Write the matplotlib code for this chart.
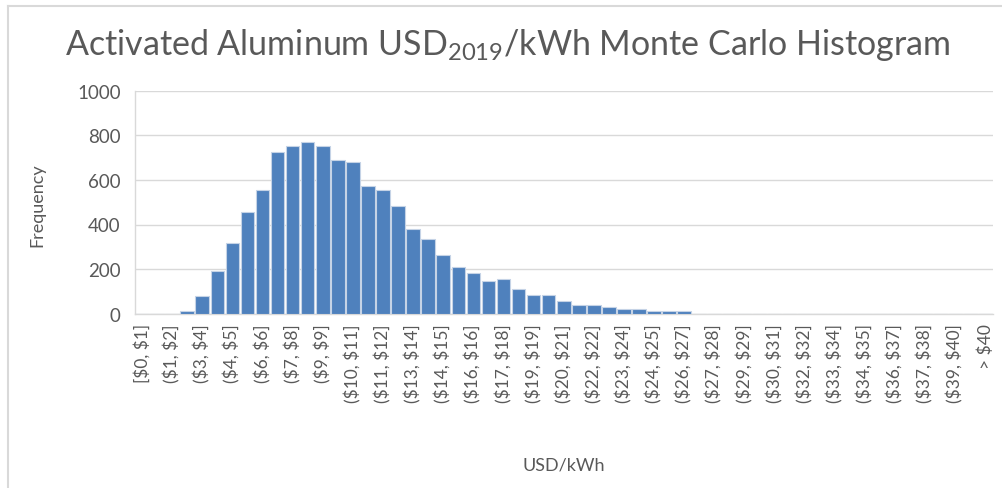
import matplotlib
matplotlib.use("Agg")
import matplotlib.pyplot as plt
from matplotlib.lines import Line2D

plt.rcParams['font.family'] = ['Lato', 'DejaVu Sans']

# Excel histogram: 56 bins of ~$0.71 plus an overflow bin
counts = [0, 0, 0, 9, 79, 189, 315, 458, 557, 728,
          753, 773, 755, 692, 683, 575, 557, 485, 378, 333,
          261, 207, 180, 144, 153, 108, 81, 81, 54, 36,
          36, 27, 18, 18, 10, 10, 10, 0, 0, 0,
          0, 0, 0, 0, 0, 0, 0, 0, 0, 0,
          0, 0, 0, 0, 0, 0, 0]

# only every other bin is labelled on the axis
shown_labels = ["[$0, $1]", "($1, $2]", "($3, $4]", "($4, $5]", "($6, $6]",
                "($7, $8]", "($9, $9]", "($10, $11]", "($11, $12]", "($13, $14]",
                "($14, $15]", "($16, $16]", "($17, $18]", "($19, $19]", "($20, $21]",
                "($22, $22]", "($23, $24]", "($24, $25]", "($26, $27]", "($27, $28]",
                "($29, $29]", "($30, $31]", "($32, $32]", "($33, $34]", "($34, $35]",
                "($36, $37]", "($37, $38]", "($39, $40]", "> $40"]

yticks = [0, 200, 400, 600, 800, 1000]

txt = '#595959'
grid = '#D9D9D9'

fig = plt.figure(figsize=(10.02, 4.89), dpi=100)
ax = fig.add_axes([134.5 / 1002, 1 - 314.5 / 489, (993 - 134.5) / 1002, (314.5 - 92) / 489])

x = list(range(len(counts)))
ax.bar(x, counts, width=0.9, color='#4F81BD', edgecolor='#C5D3E6', linewidth=0.8, zorder=3)

ax.set_xlim(-0.5, len(counts) - 0.5)
ax.set_ylim(0, 1000)
ax.set_yticks(yticks)
ax.set_xticks(x[::2])
ax.set_xticklabels(shown_labels, rotation=90, parse_math=False)
ax.tick_params(axis='x', length=0, pad=7, labelsize=12.5, colors=txt)
ax.tick_params(axis='y', length=0, pad=10, labelsize=13.5, colors=txt)

ax.grid(axis='y', color=grid, linewidth=1, zorder=0)
for s in ['top', 'right']:
    ax.spines[s].set_visible(False)
for s in ['left', 'bottom']:
    ax.spines[s].set_color(grid)
    ax.spines[s].set_linewidth(1)

fig.text(37 / 1002, 1 - 205 / 489, 'Frequency', fontsize=13, color=txt, ha='center', va='center', rotation=90)
fig.text(564 / 1002, 1 - 466 / 489, 'USD/kWh', fontsize=13, color=txt, ha='center', va='center')

fig.text(508 / 1002, 1 - 45 / 489, r'Activated Aluminum USD$_{\mathregular{2019}}$/kWh Monte Carlo Histogram',
         fontsize=24.5, color=txt, ha='center', va='center')

# chart border visible on left and top
fig.add_artist(Line2D([8 / 1002, 8 / 1002], [0, 1 - 7 / 489], color=grid, lw=1.5, transform=fig.transFigure))
fig.add_artist(Line2D([8 / 1002, 1], [1 - 7 / 489, 1 - 7 / 489], color=grid, lw=1.5, transform=fig.transFigure))

fig.savefig('out.png', dpi=100)
